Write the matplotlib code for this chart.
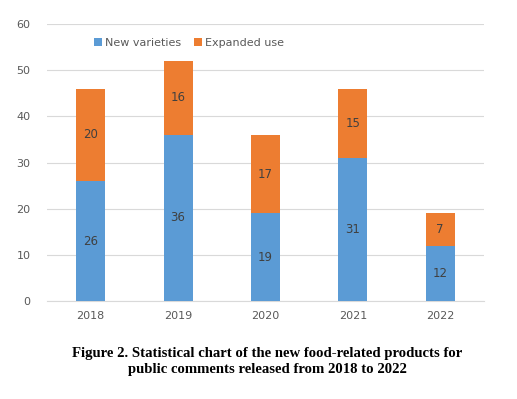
import matplotlib
matplotlib.use("Agg")
import matplotlib.pyplot as plt
import numpy as np

years = ["2018", "2019", "2020", "2021", "2022"]
new_varieties = [26, 36, 19, 31, 12]
expanded_use = [20, 16, 17, 15, 7]
yticks = [0, 10, 20, 30, 40, 50, 60]

blue = "#5B9BD5"
orange = "#ED7D31"

fig = plt.figure(figsize=(5.17, 3.99), dpi=100)
ax = fig.add_axes([0.091, 0.2456, 0.845, 0.694])

x = np.arange(len(years))
w = 0.33
b1 = ax.bar(x, new_varieties, w, color=blue, label="New varieties", zorder=3)
b2 = ax.bar(x, expanded_use, w, bottom=new_varieties, color=orange, label="Expanded use", zorder=3)

for xi, nv, eu in zip(x, new_varieties, expanded_use):
    ax.text(xi, nv / 2, str(nv), ha="center", va="center", fontsize=8.5, color="#404040", zorder=4)
    ax.text(xi, nv + eu / 2, str(eu), ha="center", va="center", fontsize=8.5, color="#404040", zorder=4)

ax.set_xlim(-0.5, len(years) - 0.5)
ax.set_ylim(0, 60)
ax.set_yticks(yticks)
ax.set_xticks(x)
ax.set_xticklabels(years)
ax.tick_params(axis="both", length=0, labelsize=8, colors="#595959")
ax.tick_params(axis="y", pad=12)
ax.tick_params(axis="x", pad=7)
ax.grid(axis="y", color="#D9D9D9", linewidth=0.8, zorder=0)
for s in ["top", "right", "left"]:
    ax.spines[s].set_visible(False)
ax.spines["bottom"].set_color("#D9D9D9")
ax.spines["bottom"].set_linewidth(0.8)

leg = fig.legend(handles=[b1, b2], loc="center left", bbox_to_anchor=(0.182, 0.892),
                 ncol=2, frameon=False, fontsize=8, handlelength=0.75, handleheight=0.75,
                 handletextpad=0.2, columnspacing=1.2, borderaxespad=0, borderpad=0)
for t in leg.get_texts():
    t.set_color("#595959")

fig.text(0.517, 0.094, "Figure 2. Statistical chart of the new food-related products for\npublic comments released from 2018 to 2022",
         ha="center", va="center", fontsize=10.6, fontweight="bold", family="Liberation Serif",
         linespacing=1.35, color="black")

fig.savefig("out.png", dpi=100)
